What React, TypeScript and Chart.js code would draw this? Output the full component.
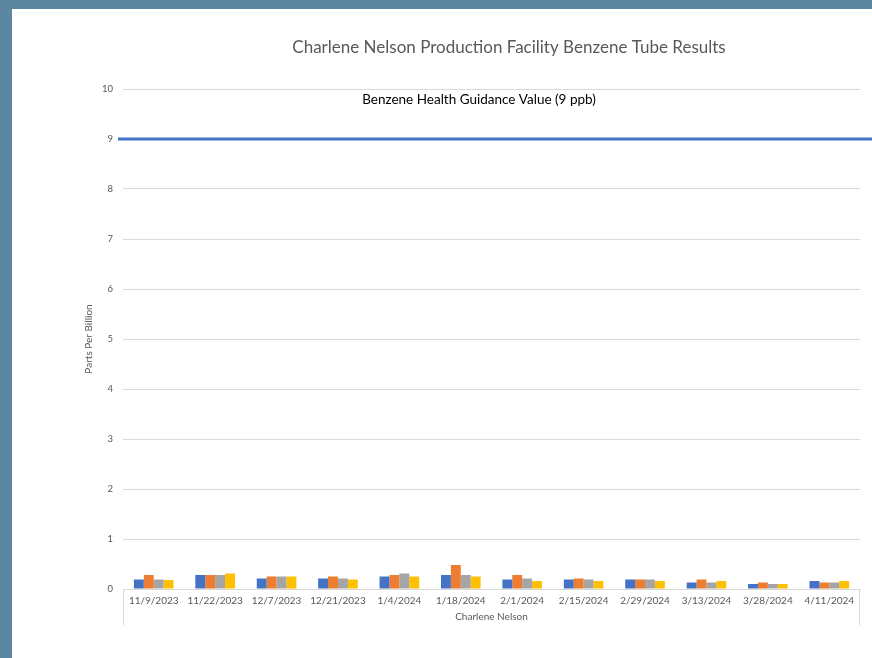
import React, { useEffect, useRef } from "react";
import { Chart, registerables } from "chart.js";

Chart.register(...registerables);

const categories = [
  "11/9/2023", "11/22/2023", "12/7/2023", "12/21/2023", "1/4/2024", "1/18/2024",
  "2/1/2024", "2/15/2024", "2/29/2024", "3/13/2024", "3/28/2024", "4/11/2024",
];
const series1 = [0.19, 0.28, 0.21, 0.21, 0.25, 0.28, 0.19, 0.19, 0.19, 0.13, 0.1, 0.16];
const series2 = [0.28, 0.28, 0.25, 0.25, 0.28, 0.48, 0.28, 0.21, 0.19, 0.19, 0.13, 0.13];
const series3 = [0.19, 0.28, 0.25, 0.21, 0.31, 0.28, 0.21, 0.19, 0.19, 0.13, 0.1, 0.13];
const series4 = [0.18, 0.31, 0.25, 0.19, 0.25, 0.25, 0.16, 0.16, 0.16, 0.16, 0.1, 0.16];
const yTicks = [0, 1, 2, 3, 4, 5, 6, 7, 8, 9, 10];
const guidanceValue = 9;

const chartTitle = "Charlene Nelson Production Facility Benzene Tube Results";
const guidanceLabel = "Benzene Health Guidance Value (9 ppb)";
const xTitle = "Charlene Nelson";
const yTitle = "Parts Per Billion";

const FONT = "Lato";

const decorPlugin = {
  id: "decor",
  beforeDraw(chart: any) {
    const { ctx, width, height } = chart;
    ctx.save();
    ctx.fillStyle = "#5B87A0";
    ctx.fillRect(0, 0, width, height);
    ctx.fillStyle = "#ffffff";
    ctx.fillRect(12, 9, width - 12, height - 9);
    ctx.restore();
  },
  afterDraw(chart: any) {
    const { ctx, chartArea, width } = chart;
    const y = chart.scales.y;
    ctx.save();
    // guidance line
    const gy = y.getPixelForValue(guidanceValue);
    ctx.strokeStyle = "#4472C4";
    ctx.lineWidth = 3;
    ctx.beginPath();
    ctx.moveTo(chartArea.left - 5, gy);
    ctx.lineTo(width, gy);
    ctx.stroke();
    // category box sides
    ctx.strokeStyle = "#D9D9D9";
    ctx.lineWidth = 1;
    ctx.beginPath();
    ctx.moveTo(chartArea.left + 0.5, chartArea.bottom);
    ctx.lineTo(chartArea.left + 0.5, chartArea.bottom + 36);
    ctx.moveTo(chartArea.right - 0.5, chartArea.bottom);
    ctx.lineTo(chartArea.right - 0.5, chartArea.bottom + 36);
    ctx.stroke();
    // texts
    ctx.textAlign = "center";
    ctx.textBaseline = "middle";
    ctx.fillStyle = "#595959";
    ctx.font = `17px ${FONT}`;
    ctx.fillText(chartTitle, 509, 48);
    ctx.fillStyle = "#000000";
    ctx.font = `13.5px ${FONT}`;
    ctx.fillText(guidanceLabel, 479, 100);
    ctx.fillStyle = "#595959";
    ctx.font = `10px ${FONT}`;
    ctx.fillText(xTitle, (chartArea.left + chartArea.right) / 2, 617);
    ctx.translate(89, (chartArea.top + chartArea.bottom) / 2);
    ctx.rotate(-Math.PI / 2);
    ctx.font = `10px ${FONT}`;
    ctx.fillText(yTitle, 0, 0);
    ctx.restore();
  },
};

export default function App() {
  const ref = useRef<HTMLCanvasElement | null>(null);
  useEffect(() => {
    document.body.style.margin = "0";
    if (!ref.current) return;
    const mk = (label: string, data: number[], color: string) => ({
      label,
      data,
      backgroundColor: color,
      borderWidth: 0,
      categoryPercentage: 0.645,
      barPercentage: 1,
    });
    const chart = new Chart(ref.current, {
      type: "bar",
      data: {
        labels: categories,
        datasets: [
          mk("Series1", series1, "#4472C4"),
          mk("Series2", series2, "#ED7D31"),
          mk("Series3", series3, "#A5A5A5"),
          mk("Series4", series4, "#FFC000"),
        ],
      },
      options: {
        animation: false,
        responsive: false,
        maintainAspectRatio: false,
        layout: { padding: { left: 0, right: 12, top: 89, bottom: 0 } },
        plugins: {
          legend: { display: false },
          title: { display: false },
          tooltip: { enabled: false },
        },
        scales: {
          x: {
            grid: { display: false, drawTicks: false },
            border: { display: true, color: "#D9D9D9", width: 1 },
            ticks: {
              color: "#595959",
              font: { family: FONT, size: 10 },
              padding: 6,
              maxRotation: 0,
              autoSkip: false,
            },
            afterFit(scale: any) {
              scale.height = 69;
            },
          },
          y: {
            min: 0,
            max: 10,
            afterBuildTicks(scale: any) {
              scale.ticks = yTicks.map((v) => ({ value: v }));
            },
            grid: { color: "#D9D9D9", drawTicks: false },
            border: { display: false },
            ticks: {
              color: "#595959",
              font: { family: FONT, size: 9.5 },
              padding: 10,
            },
            afterFit(scale: any) {
              scale.width = 123;
            },
          },
        },
      },
      plugins: [decorPlugin],
    });
    return () => chart.destroy();
  }, []);
  return (
    <div style={{ position: "fixed", left: 0, top: 0, width: 872, height: 658 }}>
      <canvas ref={ref} width={872} height={658} style={{ width: 872, height: 658 }} />
    </div>
  );
}
